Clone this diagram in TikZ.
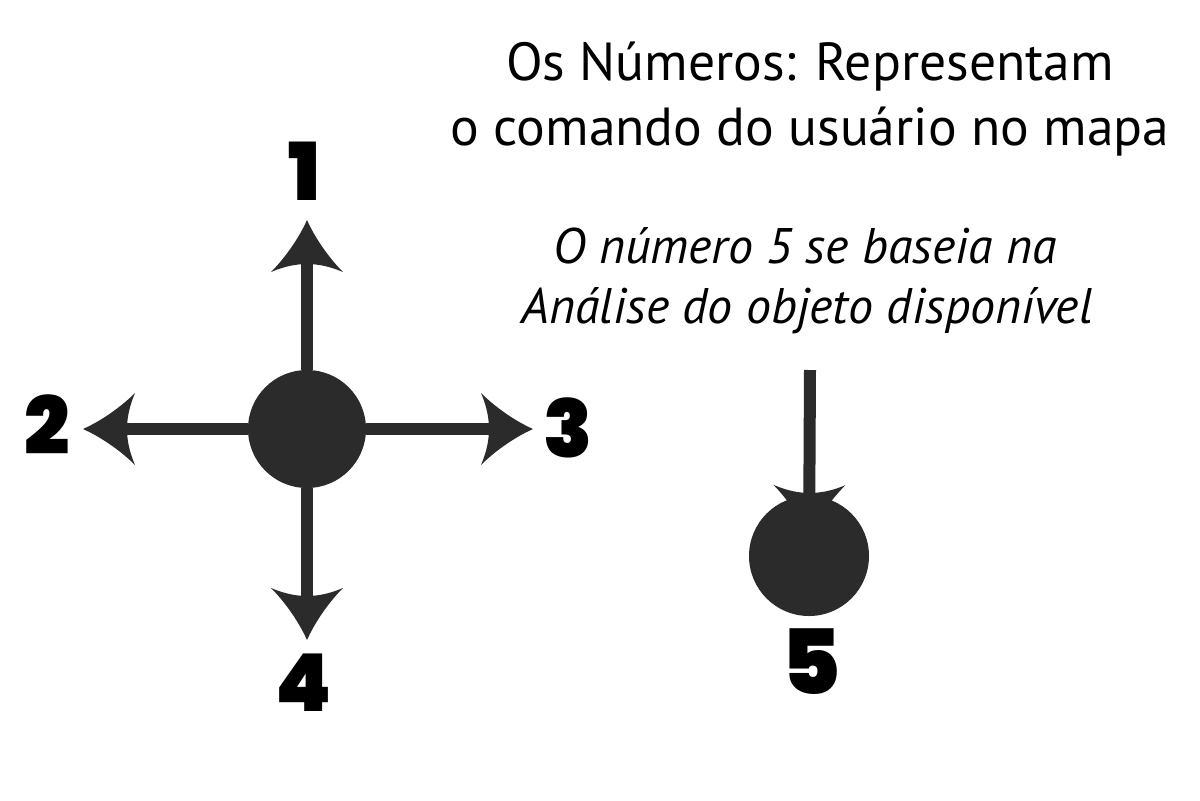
\documentclass[tikz,border=0pt]{standalone}
\usepackage{fontspec}
\setmainfont{PT Sans}
\newfontfamily\numfont{Poppins Black}
\usepackage{xcolor}
\usepackage{tikz}
\definecolor{ink}{HTML}{2B2B2B}

% swept arrow head
\pgfdeclarearrow{
  name = Barbed,
  setup code = {
    \pgfarrowssettipend{0pt}
    \pgfarrowssetlineend{-15pt}
    \pgfarrowssetbackend{-26pt}
    \pgfarrowssetvisualbackend{-22pt}
    \pgfarrowshullpoint{0pt}{0pt}
    \pgfarrowsupperhullpoint{-26pt}{18pt}
  },
  drawing code = {
    \pgfpathmoveto{\pgfqpoint{0pt}{0pt}}
    \pgfpathcurveto{\pgfqpoint{-9pt}{4pt}}{\pgfqpoint{-19pt}{11pt}}{\pgfqpoint{-26pt}{18pt}}
    \pgfpathcurveto{\pgfqpoint{-23pt}{11pt}}{\pgfqpoint{-22pt}{5pt}}{\pgfqpoint{-22pt}{0pt}}
    \pgfpathcurveto{\pgfqpoint{-22pt}{-5pt}}{\pgfqpoint{-23pt}{-11pt}}{\pgfqpoint{-26pt}{-18pt}}
    \pgfpathcurveto{\pgfqpoint{-19pt}{-11pt}}{\pgfqpoint{-9pt}{-4pt}}{\pgfqpoint{0pt}{0pt}}
    \pgfpathclose
    \pgfusepathqfill
  }
}

\begin{document}
\begin{tikzpicture}[x=0.5pt, y=-0.5pt,
    dot/.style={circle, fill=ink, inner sep=0pt, minimum size=59pt},
    arw/.style={color=ink, line width=6pt, -Barbed},
    num/.style={font=\numfont\fontsize{40}{40}\selectfont, inner sep=0pt},
    title/.style={font=\fontsize{26.8}{30}\selectfont, anchor=base},
    note/.style={font=\itshape\fontsize{25}{28}\selectfont, anchor=base}]
      \useasboundingbox (0,0) rectangle (1200,800);
      \node[dot] (c) at (307,429) {};
      \node[dot, minimum size=60pt] (d) at (809,556) {};
      \coordinate (top) at (810,370);
      \foreach \n/\x/\y in {1/307/220, 2/83/429, 3/533/429, 4/307/640}
      {
        \coordinate (tip\n) at (\x,\y);
        \draw[arw] (c) -- (tip\n);
      }
      \draw[arw, shorten >=9.5pt] (top) -- (d.center);
      \foreach \n/\x/\y in {1/304/171, 2/47/425, 3/568/428, 4/304/683}
      \node[num] (n\n) at (\x,\y) {\n};
      \node[num, font=\numfont\fontsize{45}{45}\selectfont] (n5) at (811,662) {5};
      \node[title] (t1) at (810,80) {Os Números: Representam};
      \node[title] (t2) at (810,145) {o comando do usuário no mapa};
      \node[note] (t3) at (805,263) {O número 5 se baseia na};
      \node[note] (t4) at (807,323) {Análise do objeto disponível};
    \end{tikzpicture}
\end{document}
